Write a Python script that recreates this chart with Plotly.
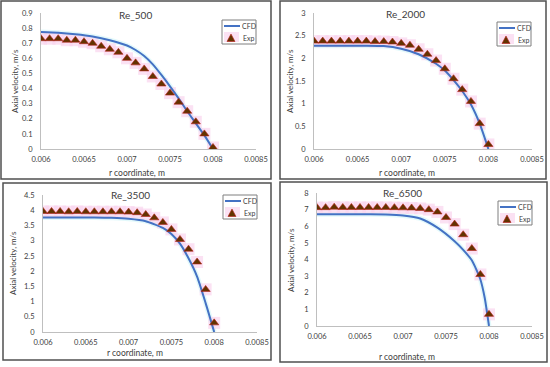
import plotly.graph_objects as go

W, H = 550, 367

# ---------------- data ----------------
titles = ["Re_500", "Re_2000", "Re_3500", "Re_6500"]
legend_names = ["CFD", "Exp"]

exp_r = [0.0060, 0.0061, 0.0062, 0.0063, 0.0064, 0.0065, 0.0066, 0.0067, 0.0068, 0.0069,
         0.0070, 0.0071, 0.0072, 0.0073, 0.0074, 0.0075, 0.0076, 0.0077, 0.0078, 0.0079, 0.0080]

exp_500 = [0.73, 0.73, 0.73, 0.72, 0.72, 0.71, 0.70, 0.68, 0.66, 0.64,
           0.60, 0.57, 0.53, 0.48, 0.43, 0.37, 0.31, 0.25, 0.18, 0.10, 0.01]
exp_2000 = [2.38, 2.38, 2.38, 2.38, 2.38, 2.38, 2.38, 2.37, 2.37, 2.36,
            2.33, 2.29, 2.20, 2.09, 1.95, 1.77, 1.55, 1.31, 1.05, 0.56, 0.10]
exp_3500 = [3.96, 3.96, 3.96, 3.95, 3.96, 3.95, 3.95, 3.95, 3.95, 3.95,
            3.94, 3.92, 3.86, 3.75, 3.60, 3.37, 3.04, 2.72, 2.30, 1.40, 0.30]
exp_6500 = [7.12, 7.12, 7.15, 7.13, 7.13, 7.13, 7.13, 7.13, 7.13, 7.12,
            7.11, 7.10, 7.07, 7.00, 6.86, 6.53, 6.13, 5.49, 4.66, 3.10, 0.70]

cfd_r_500 = [0.0060, 0.0062, 0.0064, 0.0066, 0.0068, 0.0070, 0.0071, 0.0072, 0.0073, 0.0074,
             0.0075, 0.0076, 0.0077, 0.0078, 0.0079, 0.0080]
cfd_500 = [0.775, 0.77, 0.76, 0.745, 0.72, 0.685, 0.655, 0.615, 0.56, 0.49, 0.415, 0.335, 0.25, 0.17, 0.09, 0.0]

cfd_r_2000 = [0.0060, 0.0062, 0.0064, 0.0066, 0.0068, 0.0070, 0.0072, 0.0074, 0.0075,
              0.0076, 0.0077, 0.0078, 0.0079, 0.0080]
cfd_2000 = [2.28, 2.28, 2.28, 2.28, 2.27, 2.21, 2.09, 1.88, 1.73, 1.52, 1.28, 0.98, 0.56, 0.0]

cfd_r_3500 = [0.0060, 0.0062, 0.0064, 0.0066, 0.0068, 0.0070, 0.0072, 0.0074, 0.0075,
              0.0076, 0.0077, 0.0078, 0.0079, 0.0080]
cfd_3500 = [3.76, 3.76, 3.76, 3.76, 3.75, 3.72, 3.64, 3.42, 3.22, 2.90, 2.42, 1.82, 0.95, 0.0]

cfd_r_6500 = [0.0060, 0.0062, 0.0064, 0.0066, 0.0068, 0.0070, 0.0072, 0.0074, 0.0076,
              0.0077, 0.0078, 0.0079, 0.00795, 0.0080]
cfd_6500 = [6.72, 6.72, 6.72, 6.72, 6.71, 6.65, 6.47, 5.92, 5.10, 4.58, 3.95, 2.80, 1.70, 0.0]

x_tickvals = [0.006, 0.0065, 0.007, 0.0075, 0.008, 0.0085]
x_ticktext = ["0.006", "0.0065", "0.007", "0.0075", "0.008", "0.0085"]

y_ranges = [(0, 0.9), (0, 3), (0, 4.5), (0, 8)]
y_dticks = [0.1, 0.5, 0.5, 1]

exp_series = [exp_500, exp_2000, exp_3500, exp_6500]
cfd_x = [cfd_r_500, cfd_r_2000, cfd_r_3500, cfd_r_6500]
cfd_y = [cfd_500, cfd_2000, cfd_3500, cfd_6500]

# ---------------- layout geometry (pixels) ----------------
plot_boxes = [(41, 256, 13, 149), (314, 532, 13, 149), (43, 257, 195, 332), (317, 532, 193, 326)]
frames = [(1, 271, 1, 179), (280, 546, 1, 179), (3, 271, 183, 360), (280, 547, 182, 362)]
title_pos = [(135, 15), (405, 14), (130, 195), (402, 193)]
ytitle_pos = [(15, 81), (290, 81), (13, 263), (291, 260)]
xtitle_pos = [(137, 173), (407, 173), (135, 353), (407, 357)]
legend_pos = [(222, 20), (497, 22), (223, 195), (498, 201)]
LEG_W, LEG_H = 34, 24


def fx(px):
    return px / W


def fy(py):
    return 1 - py / H


FONT = "Lato, 'Open Sans', sans-serif"
TXT = "#404040"
LINE_C = "#4472C4"
TRI_FILL = "#633300"
TRI_EDGE = "#B8201A"

fig = go.Figure()
annotations = []
shapes = []


def label(text, px, py, size, xanchor="center", angle=0):
    annotations.append(dict(text=text, x=fx(px), y=fy(py), xref="paper", yref="paper",
                            xanchor=xanchor, yanchor="middle", showarrow=False, textangle=angle,
                            font=dict(family=FONT, size=size, color=TXT)))


for i in range(4):
    n = "" if i == 0 else str(i + 1)
    xa, ya = "x" + n, "y" + n
    # halo behind line
    fig.add_trace(go.Scatter(x=cfd_x[i], y=cfd_y[i], mode="lines", xaxis=xa, yaxis=ya,
                             line=dict(color="rgba(215,247,250,0.7)", width=5, shape="spline", smoothing=0.6),
                             showlegend=False, hoverinfo="skip"))
    # halo behind triangles
    fig.add_trace(go.Scatter(x=exp_r, y=exp_series[i], mode="markers", xaxis=xa, yaxis=ya,
                             marker=dict(symbol="square", size=12, color="rgba(250,212,238,0.7)",
                                         line=dict(width=0)),
                             showlegend=False, hoverinfo="skip"))
    fig.add_trace(go.Scatter(x=cfd_x[i], y=cfd_y[i], mode="lines", name=legend_names[0], xaxis=xa, yaxis=ya,
                             line=dict(color=LINE_C, width=2, shape="spline", smoothing=0.6),
                             showlegend=False))
    fig.add_trace(go.Scatter(x=exp_r, y=exp_series[i], mode="markers", name=legend_names[1], xaxis=xa, yaxis=ya,
                             marker=dict(symbol="triangle-up", size=8, color=TRI_FILL,
                                         line=dict(color=TRI_EDGE, width=0.6)),
                             showlegend=False))

    x0, x1, y0, y1 = plot_boxes[i]
    ax_common = dict(showgrid=False, zeroline=False, showline=True, linecolor="#BFBFBF", linewidth=1,
                     ticks="", tickfont=dict(family=FONT, size=7.5, color=TXT), automargin=False)
    fig.layout["xaxis" + n] = dict(ax_common, domain=[fx(x0), fx(x1)], anchor=ya,
                                   range=[0.006, 0.0085], tickvals=x_tickvals, ticktext=x_ticktext,
                                   ticklabelstandoff=3)
    fig.layout["yaxis" + n] = dict(ax_common, domain=[fy(y1), fy(y0)], anchor=xa,
                                   range=list(y_ranges[i]), dtick=y_dticks[i], tick0=0,
                                   ticklabelstandoff=6)

    # legend box (drawn by hand so it can be as compact as the original)
    lx, ly = legend_pos[i]
    shapes.append(dict(type="rect", xref="paper", yref="paper",
                       x0=fx(lx), x1=fx(lx + LEG_W), y0=fy(ly + LEG_H), y1=fy(ly),
                       line=dict(color="#7F7F7F", width=1), fillcolor="white"))
    shapes.append(dict(type="rect", xref="paper", yref="paper",
                       x0=fx(lx + 2), x1=fx(lx + 17), y0=fy(ly + LEG_H - 2), y1=fy(ly + 12),
                       line=dict(width=0), fillcolor="rgba(250,212,238,0.7)"))
    shapes.append(dict(type="line", xref="paper", yref="paper",
                       x0=fx(lx + 2), x1=fx(lx + 18), y0=fy(ly + 6), y1=fy(ly + 6),
                       line=dict(color=LINE_C, width=2)))
    cx, cy = lx + 9, ly + 18
    tri = "M {:.5f} {:.5f} L {:.5f} {:.5f} L {:.5f} {:.5f} Z".format(
        fx(cx - 4), fy(cy + 3.5), fx(cx + 4), fy(cy + 3.5), fx(cx), fy(cy - 4))
    shapes.append(dict(type="path", xref="paper", yref="paper", path=tri,
                       fillcolor=TRI_FILL, line=dict(color=TRI_EDGE, width=0.6)))
    label(legend_names[0], lx + 18, ly + 6, 7, xanchor="left")
    label(legend_names[1], lx + 19, ly + 18, 7, xanchor="left")

    tx, ty = title_pos[i]
    label(titles[i], tx, ty, 10)
    ax_, ay_ = ytitle_pos[i]
    label("Axial velocity, m/s", ax_, ay_, 8, angle=-90)
    bx, by = xtitle_pos[i]
    label("r coordinate, m", bx, by, 8.5)

    fx0, fx1, fy0, fy1 = frames[i]
    shapes.append(dict(type="rect", xref="paper", yref="paper",
                       x0=fx(fx0), x1=fx(fx1), y0=fy(fy1), y1=fy(fy0),
                       line=dict(color="#505050", width=1.5), fillcolor="rgba(0,0,0,0)"))

fig.update_layout(width=W, height=H, margin=dict(l=0, r=0, t=0, b=0),
                  paper_bgcolor="white", plot_bgcolor="white",
                  annotations=annotations, shapes=shapes, showlegend=False,
                  font=dict(family=FONT, color=TXT))

fig.write_html("out.html", config={"displayModeBar": False},
               post_script="document.body.style.margin='0';document.body.style.overflow='hidden';")
